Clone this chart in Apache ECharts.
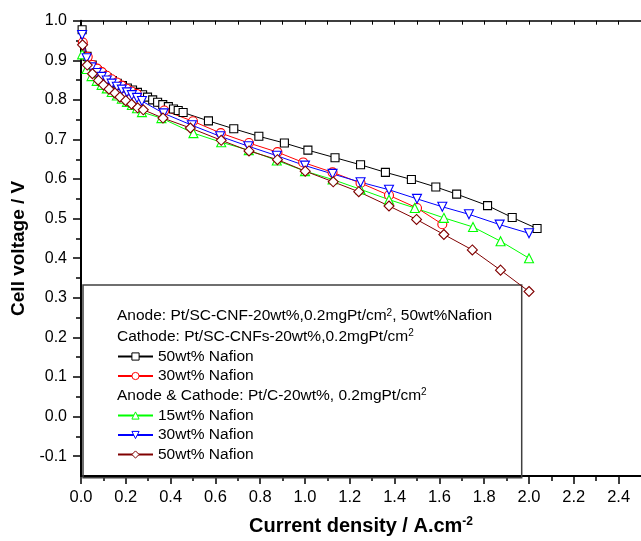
<!DOCTYPE html>
<html><head><meta charset="utf-8">
<script src="https://cdn.jsdelivr.net/npm/echarts@6/dist/echarts.min.js"></script>
<style>html,body{margin:0;padding:0;background:#fff}#c{width:641px;height:541px}</style>
</head><body><div id="c"></div>
<script>
// ---- data ----
const xSC50 = [0.005,0.027,0.05,0.072,0.095,0.117,0.14,0.162,0.185,0.207,0.23,0.252,0.275,0.297,0.32,0.342,0.365,0.39,0.413,0.434,0.456,0.569,0.682,0.794,0.908,1.013,1.134,1.248,1.359,1.475,1.584,1.677,1.815,1.925,2.036];
const ySC50 = [0.977,0.91,0.888,0.874,0.864,0.856,0.849,0.842,0.836,0.830,0.825,0.819,0.813,0.807,0.800,0.794,0.788,0.783,0.777,0.773,0.768,0.747,0.727,0.708,0.691,0.673,0.654,0.636,0.617,0.599,0.580,0.562,0.533,0.503,0.475];
const xSC30 = [0.008,0.03,0.051,0.072,0.093,0.115,0.137,0.16,0.182,0.204,0.226,0.249,0.372,0.5,0.624,0.75,0.877,0.992,1.123,1.248,1.375,1.5,1.613];
const ySC30 = [0.945,0.909,0.888,0.879,0.870,0.861,0.852,0.844,0.836,0.828,0.821,0.815,0.773,0.746,0.716,0.691,0.668,0.642,0.617,0.590,0.559,0.527,0.486];
const xPC15 = [0.005,0.025,0.047,0.07,0.092,0.115,0.137,0.16,0.182,0.205,0.227,0.25,0.272,0.359,0.502,0.626,0.749,0.874,1.0,1.123,1.248,1.375,1.49,1.62,1.75,1.873,2.0];
const yPC15 = [0.915,0.878,0.86,0.848,0.838,0.829,0.82,0.811,0.803,0.795,0.787,0.779,0.769,0.754,0.716,0.693,0.673,0.647,0.620,0.599,0.574,0.548,0.527,0.502,0.479,0.443,0.400];
const xPC30 = [0.005,0.025,0.047,0.07,0.092,0.115,0.137,0.16,0.182,0.205,0.227,0.25,0.272,0.369,0.495,0.621,0.747,0.874,1.0,1.123,1.248,1.375,1.5,1.613,1.732,1.869,2.0];
const yPC30 = [0.964,0.905,0.882,0.868,0.858,0.849,0.841,0.833,0.826,0.819,0.812,0.805,0.797,0.766,0.736,0.708,0.683,0.659,0.634,0.613,0.592,0.573,0.550,0.530,0.511,0.485,0.463];
const xPC50 = [0.007,0.028,0.051,0.078,0.1,0.125,0.152,0.174,0.2,0.226,0.253,0.278,0.366,0.488,0.626,0.75,0.877,1.001,1.126,1.24,1.375,1.498,1.62,1.747,1.873,2.0];
const yPC50 = [0.939,0.888,0.866,0.849,0.838,0.827,0.817,0.807,0.798,0.789,0.780,0.775,0.754,0.729,0.698,0.671,0.649,0.620,0.593,0.568,0.532,0.498,0.460,0.421,0.370,0.316];

const xTicks = [0,0.2,0.4,0.6,0.8,1.0,1.2,1.4,1.6,1.8,2.0,2.2,2.4];
const xMinorTicks = [0.1,0.3,0.5,0.7,0.9,1.1,1.3,1.5,1.7,1.9,2.1,2.3];
const yTicks = [-0.1,0.0,0.1,0.2,0.3,0.4,0.5,0.6,0.7,0.8,0.9,1.0];
const yMinorTicks = [-0.05,0.05,0.15,0.25,0.35,0.45,0.55,0.65,0.75,0.85,0.95];

const legendLabels = {SC50:'50wt% Nafion', SC30:'30wt% Nafion', PC15:'15wt% Nafion', PC30:'30wt% Nafion', PC50:'50wt% Nafion'};
const header1 = 'Anode: Pt/SC-CNF-20wt%,0.2mgPt/cm{s|2}, 50wt%Nafion';
const header2 = 'Cathode: Pt/SC-CNFs-20wt%,0.2mgPt/cm{s|2}';
const header3 = 'Anode & Cathode: Pt/C-20wt%, 0.2mgPt/cm{s|2}';
const xTitle = 'Current density / A.cm{s|-2}';
const yTitle = 'Cell voltage / V';

// ---- chart ----
const FONT = 'Liberation Sans, Arial, sans-serif';
const zip = (xs, ys) => xs.map((x, i) => [x, ys[i]]);
const invTri = 'path://M0,0 L10,0 L5,9 Z';
const diamond = 'path://M5,0 L10,5 L5,10 L0,5 Z';

function mk(name, xs, ys, color, symbol, size) {
  return {
    name, type: 'line', data: zip(xs, ys), symbol, symbolSize: size,
    showAllSymbol: true,
    lineStyle: { color, width: 1 },
    itemStyle: { color: '#fff', borderColor: color, borderWidth: 1.1 },
    emphasis: { disabled: true }, animation: false
  };
}

const chart = echarts.init(document.getElementById('c'), null, { renderer: 'canvas' });
const LFS = 15.5;
const legendBase = {
  orient: 'vertical', left: 117, itemWidth: 35, itemHeight: 9, itemGap: 3.5, padding: 0,
  selectedMode: false, textStyle: { fontSize: LFS, color: '#000', fontFamily: FONT },
  itemStyle: { color: '#fff', borderWidth: 1 },
  formatter: n => legendLabels[n]
};
const supRich = { s: { fontSize: 10, verticalAlign: 'top', fontFamily: FONT } };
chart.setOption({
  animation: false,
  grid: { left: 81, top: 20.7, bottom: 63.3, right: -1, containLabel: false },
  xAxis: [
    { type: 'value', position: 'bottom', min: 0, max: 2.5,
      name: xTitle, nameLocation: 'middle', nameGap: 40,
      nameTextStyle: { fontSize: 20, fontWeight: 'bold', color: '#000', fontFamily: FONT,
        rich: { s: { fontSize: 12, fontWeight: 'bold', verticalAlign: 'top', fontFamily: FONT, color: '#000' } } },
      axisLine: { show: true, onZero: false, lineStyle: { color: '#000', width: 2 } },
      axisTick: { show: true, inside: false, length: 8, lineStyle: { color: '#000', width: 1.5 }, customValues: xTicks },
      axisLabel: { show: true, margin: 13, fontSize: 16.5, color: '#000', fontFamily: FONT, customValues: xTicks,
        formatter: v => v.toFixed(1) },
      splitLine: { show: false } },
    { type: 'value', position: 'bottom', min: 0, max: 2.5,
      axisLine: { show: false, onZero: false },
      axisTick: { show: true, inside: false, length: 5, lineStyle: { color: '#000', width: 1.5 }, customValues: xMinorTicks },
      axisLabel: { show: false }, splitLine: { show: false } },
    { type: 'value', position: 'top', min: 0, max: 2.5,
      axisLine: { show: true, onZero: false, lineStyle: { color: '#000', width: 1.5 } },
      axisTick: { show: true, inside: true, length: 4, lineStyle: { color: '#000', width: 1 }, customValues: xTicks.concat(xMinorTicks) },
      axisLabel: { show: false }, splitLine: { show: false } }
  ],
  yAxis: [
    { type: 'value', position: 'left', min: -0.15, max: 1.0,
      name: yTitle, nameLocation: 'middle', nameGap: 46, nameRotate: 90,
      nameTextStyle: { fontSize: 19, fontWeight: 'bold', color: '#000', fontFamily: FONT },
      axisLine: { show: true, onZero: false, lineStyle: { color: '#000', width: 2 } },
      axisTick: { show: true, inside: false, length: 8, lineStyle: { color: '#000', width: 1.5 }, customValues: yTicks },
      axisLabel: { show: true, margin: 14, fontSize: 16, color: '#000', fontFamily: FONT, customValues: yTicks,
        formatter: v => v.toFixed(1) },
      splitLine: { show: false } },
    { type: 'value', position: 'left', min: -0.15, max: 1.0,
      axisLine: { show: false, onZero: false },
      axisTick: { show: true, inside: false, length: 5, lineStyle: { color: '#000', width: 1.5 }, customValues: yMinorTicks },
      axisLabel: { show: false }, splitLine: { show: false } }
  ],
  legend: [
    Object.assign({}, legendBase, { top: 348.5, data: ['SC50', 'SC30'] }),
    Object.assign({}, legendBase, { top: 407.5, data: ['PC15', 'PC30', 'PC50'] })
  ],
  graphic: [
    { type: 'rect', z: 1, shape: { x: 83, y: 285, width: 438.7, height: 192.7 },
      style: { fill: 'none', stroke: '#404040', lineWidth: 1.5 }, silent: true },
    { type: 'text', z: 10, x: 117, y: 316, silent: true,
      style: { text: header1, fontSize: LFS, fontFamily: FONT, fill: '#000', verticalAlign: 'middle', rich: supRich } },
    { type: 'text', z: 10, x: 117, y: 336.5, silent: true,
      style: { text: header2, fontSize: LFS, fontFamily: FONT, fill: '#000', verticalAlign: 'middle', rich: supRich } },
    { type: 'text', z: 10, x: 117, y: 395.5, silent: true,
      style: { text: header3, fontSize: LFS, fontFamily: FONT, fill: '#000', verticalAlign: 'middle', rich: supRich } }
  ],
  series: [
    mk('SC50', xSC50, ySC50, '#000000', 'rect', 8),
    mk('SC30', xSC30, ySC30, '#ff0000', 'circle', 9),
    mk('PC15', xPC15, yPC15, '#00ff00', 'triangle', 9),
    mk('PC30', xPC30, yPC30, '#0000ff', invTri, 9),
    mk('PC50', xPC50, yPC50, '#800000', diamond, 10)
  ]
});
</script>
</body></html>
